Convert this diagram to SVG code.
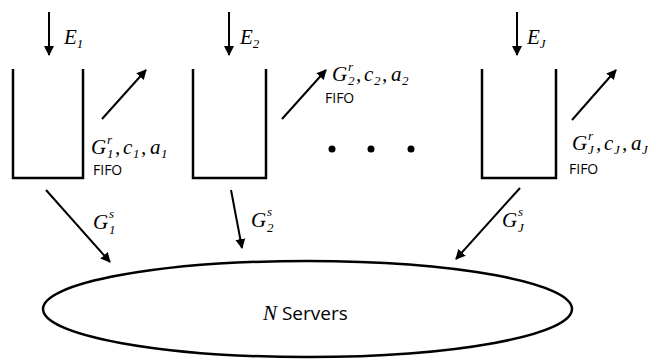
<svg xmlns="http://www.w3.org/2000/svg" width="655" height="363" viewBox="0 0 655 363">
<style>
.q{fill:none;stroke:#000;stroke-width:2.5}
.c{stroke:#000;stroke-width:2;fill:none;marker-end:url(#ah)}
.m{font-family:"Liberation Serif","DejaVu Serif",serif;font-style:italic;font-size:21px;fill:#000}
.s{font-size:13px}
.t{font-family:"Open Sans","Liberation Sans",sans-serif;font-size:14px;fill:#000}
</style>
<defs>
<marker id="ah" viewBox="0 0 10 10" refX="9" refY="5" markerWidth="5" markerHeight="5" orient="auto" markerUnits="strokeWidth">
<path d="M0,0 L10,5 L0,10 z" fill="#000"/>
</marker>
</defs>
<rect width="655" height="363" fill="#fff"/>
<g id="queue1">
<path class="q" d="M13,69 V178 H83 V69"/>
<text class="m" x="64" y="44">E<tspan class="s" dy="4">1</tspan></text>
<text class="m"><tspan x="91" y="154">G</tspan><tspan class="s" x="107" y="144">r</tspan><tspan class="s" x="107" y="158">1</tspan><tspan x="115" y="154">,</tspan><tspan x="123" y="154">c</tspan><tspan class="s" x="133" y="158">1</tspan><tspan x="141" y="154">,</tspan><tspan x="150" y="154">a</tspan><tspan class="s" x="161" y="158">1</tspan></text>
<text class="t" x="93" y="175">FIFO</text>
</g>
<g id="queue2">
<path class="q" d="M193,69 V178 H266 V69"/>
<text class="m" x="240" y="44">E<tspan class="s" dy="4">2</tspan></text>
<text class="m"><tspan x="332" y="81">G</tspan><tspan class="s" x="348" y="71">r</tspan><tspan class="s" x="348" y="85">2</tspan><tspan x="356" y="81">,</tspan><tspan x="364" y="81">c</tspan><tspan class="s" x="374" y="85">2</tspan><tspan x="382" y="81">,</tspan><tspan x="391" y="81">a</tspan><tspan class="s" x="402" y="85">2</tspan></text>
<text class="t" x="325" y="103">FIFO</text>
</g>
<g id="queueJ">
<path class="q" d="M482,69 V178 H556 V69"/>
<text class="m" x="527" y="44">E<tspan class="s" dy="4">J</tspan></text>
<text class="m"><tspan x="572" y="150">G</tspan><tspan class="s" x="588" y="140">r</tspan><tspan class="s" x="588" y="154">J</tspan><tspan x="596" y="150">,</tspan><tspan x="604" y="150">c</tspan><tspan class="s" x="614" y="154">J</tspan><tspan x="622" y="150">,</tspan><tspan x="631" y="150">a</tspan><tspan class="s" x="642" y="154">J</tspan></text>
<text class="t" x="569" y="174">FIFO</text>
</g>
<g id="dots" fill="#000">
<circle cx="332" cy="149" r="3.5"/>
<circle cx="371" cy="149" r="3.5"/>
<circle cx="411" cy="149" r="3.5"/>
</g>
<g id="servers">
<ellipse cx="307.5" cy="309" rx="264.5" ry="48" fill="none" stroke="#000" stroke-width="2.5"/>
<text x="263" y="320"><tspan class="m">N</tspan><tspan class="t" style="font-size:19px"> Servers</tspan></text>
</g>
<g id="connectors">
<line class="c" x1="49" y1="12" x2="49" y2="55"/>
<line class="c" x1="229" y1="12" x2="229" y2="55"/>
<line class="c" x1="517" y1="12" x2="517" y2="55"/>
<line class="c" x1="102" y1="119" x2="146" y2="70"/>
<line class="c" x1="282" y1="119" x2="326" y2="70"/>
<line class="c" x1="572" y1="120" x2="616" y2="70"/>
<line class="c" x1="46" y1="190" x2="110" y2="262"/>
<line class="c" x1="231" y1="190" x2="242" y2="248"/>
<line class="c" x1="520" y1="188" x2="456" y2="259"/>
</g>
<g id="labels">
<text class="m"><tspan x="93" y="229">G</tspan><tspan class="s" x="109" y="218">s</tspan><tspan class="s" x="109" y="234">1</tspan></text>
<text class="m"><tspan x="251" y="227">G</tspan><tspan class="s" x="267" y="216">s</tspan><tspan class="s" x="267" y="232">2</tspan></text>
<text class="m"><tspan x="502" y="227">G</tspan><tspan class="s" x="518" y="216">s</tspan><tspan class="s" x="518" y="232">J</tspan></text>
</g>
</svg>
